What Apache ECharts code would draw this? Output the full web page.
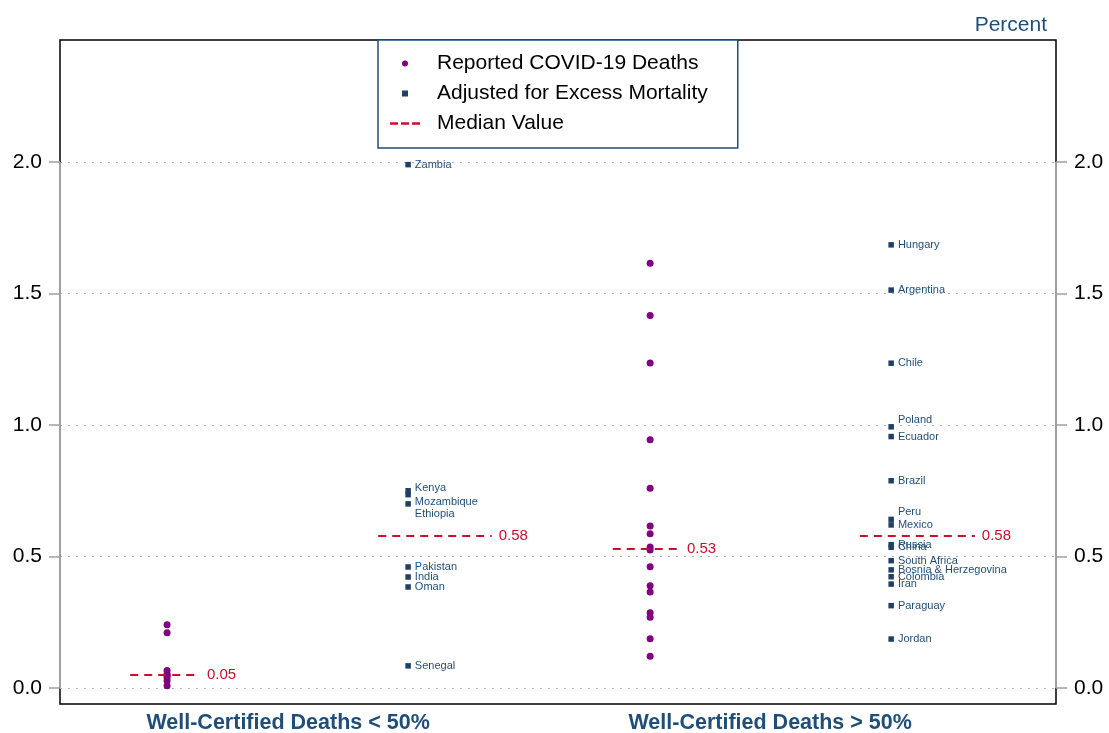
<!DOCTYPE html>
<html>
<head>
<meta charset="UTF-8">
<title>Deaths by certification</title>
<style>
  html, body { margin: 0; padding: 0; background: #fff; }
</style>
</head>
<body>
<div id="main" style="width: 1109px;height:733px;"></div>
<script type="text/javascript" src="https://cdn.jsdelivr.net/npm/echarts@6/dist/echarts.min.js"></script>
<script>
// groups on the x axis
var groups = ['Well-Certified Deaths < 50%', 'Well-Certified Deaths > 50%'];

// reported deaths (percent), one list per group
var reportedLow = [0.24, 0.21, 0.066, 0.053, 0.047, 0.04, 0.027, 0.008];
var reportedHigh = [1.615, 1.416, 1.236, 0.944, 0.759, 0.616, 0.586, 0.536, 0.525, 0.461, 0.389, 0.365, 0.286, 0.269, 0.187, 0.121];

// adjusted for excess mortality, countries + values
var adjLowNames = ['Zambia', 'Kenya', 'Mozambique', 'Ethiopia', 'Pakistan', 'India', 'Oman', 'Senegal'];
var adjLowValues = [1.99, 0.75, 0.735, 0.70, 0.46, 0.422, 0.384, 0.084];
var adjHighNames = ['Hungary', 'Argentina', 'Chile', 'Poland', 'Ecuador', 'Brazil', 'Peru', 'Mexico', 'Russia', 'China', 'South Africa', 'Bosnia & Herzegovina', 'Colombia', 'Iran', 'Paraguay', 'Jordan'];
var adjHighValues = [1.685, 1.513, 1.235, 0.993, 0.956, 0.788, 0.641, 0.62, 0.545, 0.535, 0.484, 0.449, 0.423, 0.395, 0.313, 0.186];

// medians: low reported, low adjusted, high reported, high adjusted
var medians = [0.05, 0.58, 0.53, 0.58];
var yTicks = [0, 0.5, 1.0, 1.5, 2.0];

// layout (x in panel units, 0..1 left panel, 1..2 right panel)
var colX = { lowRep: 0.215, lowAdj: 0.699, highRep: 1.185, highAdj: 1.669 };
var groupX = [0.458, 1.426];
var medianSpans = [[0.141, 0.281], [0.639, 0.867], [1.110, 1.245], [1.606, 1.837]];
// small label nudges where names overlap
var labelNudge = { 'Kenya': [0, -3], 'Mozambique': [0, 7], 'Ethiopia': [0, 10], 'Poland': [0, -7], 'Peru': [0, -7] };

var navy = '#1f4e79';
var red = '#c8102e';

var repData = [];
reportedLow.forEach(function (v) { repData.push([colX.lowRep, v]); });
reportedHigh.forEach(function (v) { repData.push([colX.highRep, v]); });

var adjData = [];
function pushAdj(names, values, x) {
  names.forEach(function (n, i) {
    var item = { name: n, value: [x, values[i]] };
    if (labelNudge[n]) item.label = { offset: labelNudge[n] };
    adjData.push(item);
  });
}
pushAdj(adjLowNames, adjLowValues, colX.lowAdj);
pushAdj(adjHighNames, adjHighValues, colX.highAdj);

var medianLines = medians.map(function (m, i) {
  return [
    { coord: [medianSpans[i][0], m], label: { formatter: m.toFixed(2) } },
    { coord: [medianSpans[i][1], m] }
  ];
});

// dotted grid lines, grey axis stems, middle divider
var guideLines = yTicks.map(function (t) {
  return { yAxis: t, lineStyle: { type: [2, 6], color: '#b0b0b0', width: 1 } };
});
guideLines.push([{ coord: [0, 0], lineStyle: { color: '#a0a0a0', width: 2, type: 'solid' } }, { coord: [0, 2] }]);
guideLines.push([{ coord: [2, 0], lineStyle: { color: '#a0a0a0', width: 2, type: 'solid' } }, { coord: [2, 2] }]);
guideLines.push([{ coord: [1, 0], lineStyle: { color: '#000', width: 1.5, type: 'solid' } }, { coord: [1, 2.5] }]);

var myChart = echarts.init(document.getElementById('main'));

var yAxisBase = {
  type: 'value',
  min: -0.061,
  max: 2.464,
  axisLine: { show: false },
  axisTick: { show: true, length: 11, customValues: yTicks, lineStyle: { color: '#a0a0a0', width: 1.5 } },
  axisLabel: {
    customValues: yTicks,
    margin: 18,
    color: '#000',
    fontSize: 21,
    formatter: function (v) { return v.toFixed(1); }
  },
  splitLine: { show: false }
};

myChart.setOption({
  animation: false,
  textStyle: { fontFamily: 'Liberation Sans, Arial, sans-serif' },
  title: {
    text: 'Percent',
    right: 57,
    top: 10,
    textStyle: { color: navy, fontSize: 21, fontWeight: 'normal' }
  },
  legend: {
    data: [
      { name: 'Reported COVID-19 Deaths', icon: 'circle' },
      { name: 'Adjusted for Excess Mortality', icon: 'path://M0,0h10v10h-10z' },
      { name: 'Median Value', icon: 'path://M0,0h8v2.4h-8z M11,0h8v2.4h-8z M22,0h8v2.4h-8z', itemStyle: { color: red, borderWidth: 0 } }
    ],
    orient: 'vertical',
    left: 378,
    top: 40,
    z: 20,
    padding: [13, 30, 14, 12],
    itemWidth: 30,
    itemHeight: 6,
    itemGap: 9,
    backgroundColor: '#fff',
    borderColor: navy,
    borderWidth: 1.5,
    borderRadius: 0,
    textStyle: { color: '#000', fontSize: 21, padding: [0, 0, 0, 12] }
  },
  grid: {
    left: 60,
    right: 53,
    top: 40,
    bottom: 29,
    outerBoundsMode: 'none',
    show: true,
    borderColor: '#000',
    borderWidth: 1.5
  },
  xAxis: {
    type: 'value',
    min: 0,
    max: 2,
    axisLine: { show: false },
    axisTick: { show: false },
    splitLine: { show: false },
    axisLabel: {
      customValues: groupX,
      margin: 8,
      color: navy,
      fontSize: 21.5,
      fontWeight: 'bold',
      formatter: function (v) { return v < 1 ? groups[0] : groups[1]; }
    }
  },
  yAxis: [
    Object.assign({}, yAxisBase, { position: 'left' }),
    Object.assign({}, yAxisBase, { position: 'right' })
  ],
  series: [
    {
      name: 'guides',
      type: 'line',
      data: [],
      silent: true,
      markLine: {
        silent: true,
        symbol: 'none',
        z: 1,
        label: { show: false },
        data: guideLines
      }
    },
    {
      name: 'Reported COVID-19 Deaths',
      type: 'scatter',
      symbol: 'circle',
      symbolSize: 7,
      itemStyle: { color: '#800080', opacity: 1 },
      z: 3,
      data: repData
    },
    {
      name: 'Adjusted for Excess Mortality',
      type: 'scatter',
      symbol: 'rect',
      symbolSize: 5.5,
      itemStyle: { color: '#1f3f66', opacity: 1 },
      z: 3,
      label: {
        show: true,
        position: 'right',
        distance: 4,
        color: navy,
        fontSize: 11,
        formatter: '{b}'
      },
      data: adjData
    },
    {
      name: 'Median Value',
      type: 'line',
      data: [],
      symbol: 'none',
      showSymbol: false,
      itemStyle: { color: red },
      lineStyle: { color: red, width: 2, type: [8, 6] },
      markLine: {
        silent: true,
        symbol: 'none',
        z: 4,
        lineStyle: { color: red, width: 2, type: [8, 6] },
        label: { show: true, position: 'end', distance: 7, color: red, fontSize: 15 },
        data: medianLines
      }
    }
  ]
});
</script>
</body>
</html>
